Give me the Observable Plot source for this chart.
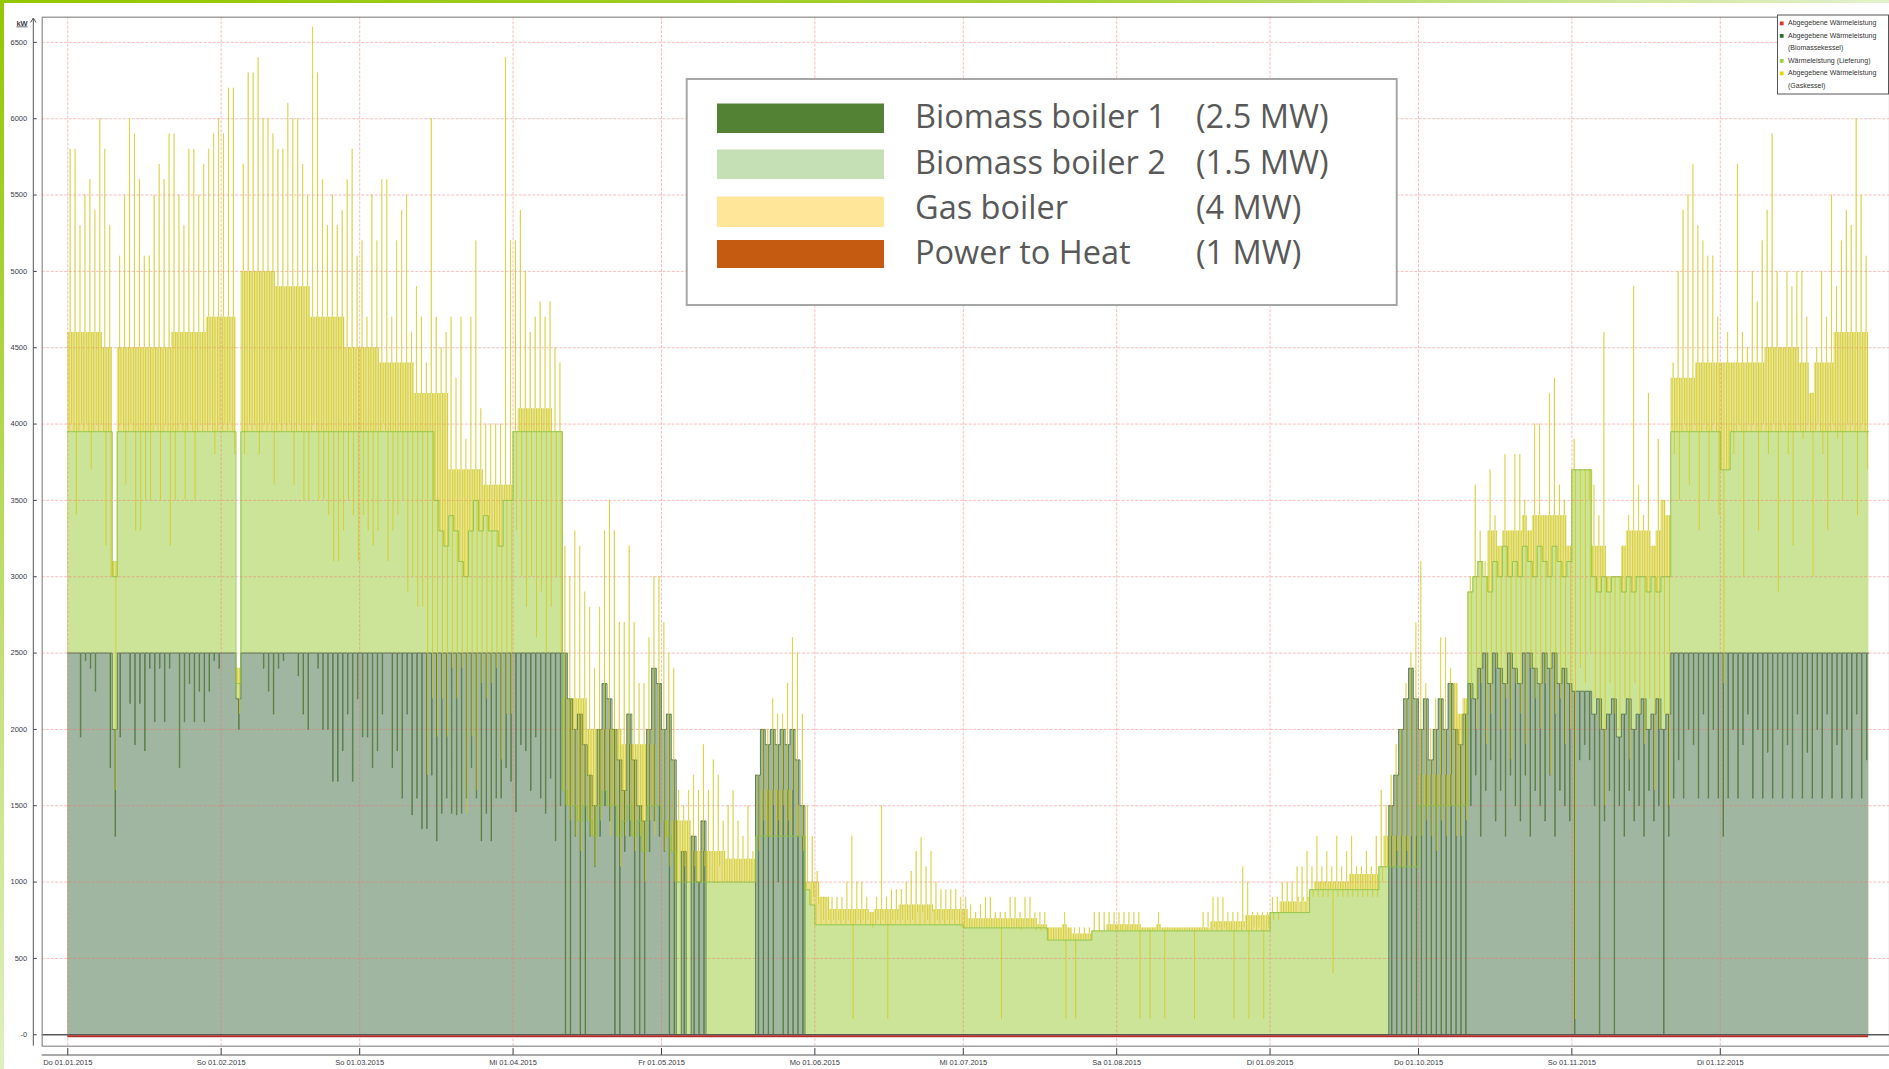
<!DOCTYPE html>
<html><head><meta charset="utf-8">
<script src="https://cdn.jsdelivr.net/npm/d3@7"></script>
<script src="https://cdn.jsdelivr.net/npm/@observablehq/plot@0.6"></script>
<style>
html,body{margin:0;padding:0;background:#fff;overflow:hidden}
#wrap{position:relative;width:1889px;height:1069px}
#chart{position:absolute;left:0;top:0}
#barL{position:absolute;left:0;top:0;width:4px;height:1069px;background:linear-gradient(#93c700,#dff0bf)}
#barT{position:absolute;left:0;top:0;width:1889px;height:3px;background:linear-gradient(90deg,#93c700 0%,#a6d034 55%,#e4f1cc 100%)}
</style></head>
<body><div id="wrap"><div id="chart"></div><div id="barL"></div><div id="barT"></div></div>
<script>
// ---- axis ticks ----
const monthTickDays = [0,31,59,90,120,151,181,212,243,273,304,334];
const monthTickLabels = ["Do 01.01.2015","So 01.02.2015","So 01.03.2015","Mi 01.04.2015","Fr 01.05.2015","Mo 01.06.2015","Mi 01.07.2015","Sa 01.08.2015","Di 01.09.2015","Do 01.10.2015","So 01.11.2015","Di 01.12.2015"];
const yTicks = [0,500,1000,1500,2000,2500,3000,3500,4000,4500,5000,5500,6000,6500];
const yTickLabels = ["-0","500","1000","1500","2000","2500","3000","3500","4000","4500","5000","5500","6000","6500"];

// ---- daily peak of total heat output (kW), 01.01.–30.12.2015 ----
const peak = [
5800,5800,5300,5500,5600,5400,6000,5800,5300,3100,5100,5500,6000,5900,5600,5100,5100,5500,5700,5600,5900,5900,5500,5300,5800,5800,5500,5700,5800,5900,6000,
5900,6200,6200,2400,5700,6300,6300,6400,6000,6000,5900,5800,5800,6100,6000,6000,5700,5500,6600,6300,5600,5300,5500,5300,5400,5600,5800,5100,
5200,4700,5500,5200,5600,5600,4700,5200,5400,5500,4600,4900,4700,4400,6000,4700,4500,4600,4700,4300,4700,3900,4700,5200,4100,4000,4000,4000,4000,6400,5200,
5200,5400,5000,4600,4700,4800,4700,4800,4500,4400,3200,3000,3300,3200,2900,2800,2400,2800,3300,3500,3300,2700,2700,3200,2700,2300,2300,2600,3000,3000,
2700,2500,2400,1600,1500,1600,1700,1600,1900,1600,1800,1700,1400,1500,1600,1400,1300,1500,1200,1700,2000,2000,2200,2100,2100,2300,2600,2500,2100,1500,1300,
1070,900,900,900,900,900,1000,1300,1000,1000,900,800,900,1500,900,950,950,950,1000,1070,1200,1290,1100,1200,1000,950,950,950,950,900,
900,850,800,850,900,900,800,800,800,900,900,800,900,900,800,800,800,700,700,700,800,700,700,700,700,700,800,800,800,800,800,
800,800,800,800,800,700,700,700,800,700,700,700,700,700,700,700,700,800,800,900,900,900,800,800,800,1100,1000,800,800,800,800,
900,900,1000,1000,1000,1100,1100,1200,1100,1300,1100,1200,1100,1300,1100,1200,1300,1100,1100,1200,1100,1300,1600,1500,1700,1900,2000,2300,2500,2700,
3100,2300,2000,2200,2600,2600,2400,2300,2100,2200,3000,3600,3300,3100,3700,3400,3200,3800,3300,3800,3800,3500,3300,4000,4000,3400,4200,4300,3600,3500,3200,
3900,3700,3700,3500,3600,3400,4600,3000,3000,3000,3200,3400,4900,3600,3400,4200,3200,3900,3500,3400,4400,5000,5400,5500,5700,5300,5200,5100,5100,4700,
4400,4600,4400,5700,4600,4500,5000,4800,5200,5400,5900,5000,4500,5000,4900,5000,5000,4700,4200,4500,5000,4700,5500,4900,5200,5400,5300,6000,5500,5100
];

// ---- daily lowest dip of total heat output (kW) ----
const dip = [
4000,3400,4000,4000,3700,4000,4000,3200,3000,1600,4000,3600,4000,3300,3300,3500,3500,4000,3500,4000,3200,3500,4000,3500,4000,3500,4000,4000,4000,3800,4000,
4000,4000,3800,2100,3800,4000,4000,3800,4000,4000,3600,4000,4000,4000,3600,4000,3500,3500,4000,3500,3500,3400,3100,3100,3300,3500,3400,3100,
3400,3300,3200,3300,4000,3100,3300,3400,3500,2900,3000,2800,2800,1700,2200,1950,2200,1950,2400,2200,2400,1450,1950,1600,2300,2200,2300,2400,1800,2100,2100,
3300,3000,2800,3000,2600,2900,2500,2800,3000,2500,1500,1400,1300,1200,1500,1300,1100,1400,1600,1300,1500,1100,1300,1400,1200,1300,1000,1400,1300,1500,
1200,1100,1000,1000,1100,1000,1100,1000,1100,1000,1000,1100,1000,1000,1000,1000,1000,1000,1000,1200,1400,1300,1500,1400,1500,1400,1600,1500,1200,1000,900,
850,750,750,750,750,750,750,100,750,750,750,700,750,750,100,750,750,750,750,750,800,800,750,800,750,750,750,750,750,700,
700,700,700,700,700,700,700,100,700,700,700,680,700,700,680,680,680,620,620,620,100,620,100,620,620,620,680,680,680,680,680,
680,680,680,680,100,680,100,680,680,100,680,680,680,680,680,100,680,680,700,700,700,700,680,100,700,700,100,700,700,100,700,
750,750,800,800,800,900,900,900,900,900,900,900,400,900,900,900,900,900,900,900,900,900,1000,1100,1100,1200,1100,1200,1300,1300,
1300,1400,1300,1200,1400,1300,1500,1300,1300,1400,2200,2000,2300,1900,2100,2400,2000,2200,1800,2300,2100,1900,2400,2200,2000,2300,1700,2100,2200,1900,2000,
100,2400,2300,2500,2200,2000,1500,2300,2100,2000,2200,1800,2300,2100,1900,2200,1600,2000,2100,1500,3800,3500,4000,3600,4000,3300,4000,3500,4000,3400,
2300,3700,3800,4000,3000,4000,4000,3300,4000,3800,4000,2900,4000,3800,3200,4000,3900,4000,3000,4000,3800,3300,4000,3900,3500,4000,4000,3400,4000,3700
];

// ---- typical weekly level of total output (kW) ----
const weekLevel = [4600,4500,4500,4600,4700,5000,4900,4700,4500,4400,4200,3700,3600,4100,2200,2000,1900,1400,1200,1150,1600,1000,820,820,850,820,760,760,720,660,720,720,700,740,780,870,1000,1050,1300,1700,2600,3300,3400,3400,3200,3300,4300,4400,4400,4500,4400,4600,4600];

// ---- daily delivered heat from biomass boilers (Wärmeleistung Lieferung, kW) ----
const delivery = [
3950,3950,3950,3950,3950,3950,3950,3950,3950,3000,3950,3950,3950,3950,3950,3950,3950,3950,3950,3950,3950,3950,3950,3950,3950,3950,3950,3950,3950,3950,3950,
3950,3950,3950,2300,3950,3950,3950,3950,3950,3950,3950,3950,3950,3950,3950,3950,3950,3950,3950,3950,3950,3950,3950,3950,3950,3950,3950,3950,
3950,3950,3950,3950,3950,3950,3950,3950,3950,3950,3950,3950,3950,3950,3950,3500,3300,3200,3400,3300,3100,3000,3300,3500,3300,3400,3300,3300,3200,3500,3500,
3950,3950,3950,3950,3950,3950,3950,3950,3950,3950,1600,1500,1500,1400,1500,1400,1300,1500,1600,1500,1500,1300,1400,1500,1300,1400,1200,1500,1500,1500,
1400,1300,1200,1000,1000,1000,1000,1000,1000,1000,1000,1000,1000,1000,1000,1000,1000,1000,1000,1300,1300,1300,1300,1300,1300,1300,1300,1300,1300,950,850,
720,720,720,720,720,720,720,720,720,720,720,720,720,720,720,720,720,720,720,720,720,720,720,720,720,720,720,720,720,720,
700,700,700,700,700,700,700,700,700,700,700,700,700,700,700,700,700,620,620,620,620,620,620,620,620,620,680,680,680,680,680,
680,680,680,680,680,680,680,680,680,680,680,680,680,680,680,680,680,680,680,680,680,680,680,680,680,680,680,680,680,680,680,
800,800,800,800,800,800,800,800,950,950,950,950,950,950,950,950,950,950,950,950,950,950,1100,1100,1100,1100,1100,1100,1100,1100,
1500,1500,1500,1500,1500,1500,1500,1500,1500,1500,2900,3000,3100,3000,2900,3100,3000,3200,3000,3100,3000,3200,3100,3000,3200,3100,3000,3200,3100,3000,3100,
3700,3700,3700,3700,3000,2900,3000,2900,3000,3000,2900,3000,2900,3000,3000,2900,3000,2900,3000,3000,3950,3950,3950,3950,3950,3950,3950,3950,3950,3950,
3700,3700,3950,3950,3950,3950,3950,3950,3950,3950,3950,3950,3950,3950,3950,3950,3950,3950,3950,3950,3950,3950,3950,3950,3950,3950,3950,3950,3950,3950
];

// ---- biomass boiler 1: daily level and daily dip (kW) ----
const bioHi = [
2500,2500,2500,2500,2500,2500,2500,2500,2500,2000,2500,2500,2500,2500,2500,2500,2500,2500,2500,2500,2500,2500,2500,2500,2500,2500,2500,2500,2500,2500,2500,
2500,2500,2500,2200,2500,2500,2500,2500,2500,2500,2500,2500,2500,2500,2500,2500,2500,2500,2500,2500,2500,2500,2500,2500,2500,2500,2500,2500,
2500,2500,2500,2500,2500,2500,2500,2500,2500,2500,2500,2500,2500,2500,2500,2500,2500,2500,2500,2500,2500,2500,2500,2500,2500,2500,2500,2500,2500,2500,2500,
2500,2500,2500,2500,2500,2500,2500,2500,2500,2500,2500,2200,2000,2100,1900,1700,1500,2000,2300,2200,2000,1800,1600,2100,1800,1500,1400,2000,2400,2300,
2000,2100,1800,0,1200,0,1300,1000,1400,0,0,0,0,0,0,0,0,0,0,1700,2000,1900,2000,1900,2000,1900,2000,1800,1500,0,0,
0,0,0,0,0,0,0,0,0,0,0,0,0,0,0,0,0,0,0,0,0,0,0,0,0,0,0,0,0,0,
0,0,0,0,0,0,0,0,0,0,0,0,0,0,0,0,0,0,0,0,0,0,0,0,0,0,0,0,0,0,0,
0,0,0,0,0,0,0,0,0,0,0,0,0,0,0,0,0,0,0,0,0,0,0,0,0,0,0,0,0,0,0,
0,0,0,0,0,0,0,0,0,0,0,0,0,0,0,0,0,0,0,0,0,0,0,0,1500,1700,2000,2200,2400,2200,
2000,2200,1800,2000,2200,2000,2300,2000,1900,2100,2300,2200,2400,2500,2300,2500,2400,2300,2500,2400,2300,2500,2500,2400,2300,2500,2400,2500,2300,2400,2300,
2250,2250,2250,2250,2100,2200,2000,2100,2200,1950,2100,2200,2000,2100,2200,2000,2100,2200,2000,2100,2500,2500,2500,2500,2500,2500,2500,2500,2500,2500,
2500,2500,2500,2500,2500,2500,2500,2500,2500,2500,2500,2500,2500,2500,2500,2500,2500,2500,2500,2500,2500,2500,2500,2500,2500,2500,2500,2500,2500,2500
];
const bioLo = [
2500,2500,1950,2450,2400,2250,2500,2500,1750,1300,1950,2500,2170,1900,2170,1860,2400,2050,2400,2050,2400,2500,1750,2050,2300,2050,2250,2050,2250,2450,2400,
2500,2500,2500,2000,2500,2500,2500,2500,2400,2250,2100,2400,2450,2500,2500,2350,2100,2000,2500,2400,2000,2000,1660,1660,1860,2100,1660,2200,
1950,1950,1750,1860,2100,2500,1750,1860,1550,2100,1440,1550,1350,1350,1700,1270,1450,1550,1450,1440,1450,1550,1750,1550,1270,1450,1270,1550,1550,1750,1660,
1460,1900,1860,1600,1950,1550,1450,1680,1270,1500,0,0,1300,0,0,1300,1100,1300,1500,1400,0,0,1200,1300,0,0,0,1200,1400,1300,
1200,0,0,0,0,0,0,0,0,0,0,0,0,0,0,0,0,0,0,0,0,0,0,1000,0,0,0,0,0,0,0,
0,0,0,0,0,0,0,0,0,0,0,0,0,0,0,0,0,0,0,0,0,0,0,0,0,0,0,0,0,0,
0,0,0,0,0,0,0,0,0,0,0,0,0,0,0,0,0,0,0,0,0,0,0,0,0,0,0,0,0,0,0,
0,0,0,0,0,0,0,0,0,0,0,0,0,0,0,0,0,0,0,0,0,0,0,0,0,0,0,0,0,0,0,
0,0,0,0,0,0,0,0,0,0,0,0,0,0,0,0,0,0,0,0,0,0,0,0,0,0,0,0,0,0,
0,0,0,0,0,0,0,0,0,0,1500,1700,1300,1600,1800,1400,1600,1300,1700,1500,1400,1700,1300,1600,1500,1400,1700,1300,1600,1500,1400,
0,1800,1900,1800,1500,0,1400,1600,0,1500,1300,1600,1400,1500,1300,1600,1400,1500,0,1300,1550,1800,1550,2000,1900,1550,2100,1550,2000,1550,
1300,1550,2000,1550,1900,2100,1550,2000,1550,1850,1550,2000,1550,1900,1550,2100,1550,1850,1550,2000,1550,2100,1550,1900,1550,2000,1550,2100,1550,1800
];

// ---- legends ----
const legendNames = ["Biomass boiler 1","Biomass boiler 2","Gas boiler","Power to Heat"];
const legendCaps = ["(2.5 MW)","(1.5 MW)","(4 MW)","(1 MW)"];
const legendColors = ["#548235","#c5e0b4","#ffe699","#c55a11"];
const seriesLines = [["Abgegebene Wärmeleistung"],["Abgegebene Wärmeleistung","(Biomassekessel)"],["Wärmeleistung (Lieferung)"],["Abgegebene Wärmeleistung","(Gaskessel)"]];
const seriesColors = ["#e0312f","#2f6b2f","#9fd13c","#e4d400"];

// ---- build tables ----
const n = peak.length;
const days = d3.range(n);
const levelOf = d => Math.max(delivery[d], Math.min(weekLevel[Math.floor(d / 7)], peak[d]));
const gasArea = days.flatMap(d => {
  const lvl = levelOf(d);
  return [{t:d,v:lvl},{t:d+0.2,v:delivery[d]},{t:d+0.26,v:lvl},{t:d+0.45,v:peak[d]},{t:d+0.53,v:lvl},{t:d+0.7,v:dip[d]},{t:d+0.76,v:lvl}];
});
gasArea.push({t:n, v:levelOf(n-1)});
const gasSpikes = days.flatMap(d => {
  const lvl = levelOf(d);
  return [{t:d+0.23,a:lvl,b:delivery[d]},{t:d+0.49,a:lvl,b:peak[d]},{t:d+0.73,a:lvl,b:dip[d]}];
});
const bioLine = days.flatMap(d => [{t:d,v:bioHi[d]},{t:d+0.52,v:bioLo[d]},{t:d+0.64,v:bioHi[d]}]);
bioLine.push({t:n, v:bioHi[n-1]});
const delivLine = days.map(d => ({t:d, v:delivery[d]}));
delivLine.push({t:n, v:delivery[n-1]});

const gridStyle = {stroke:"#ef6f6f", strokeOpacity:0.45, strokeDasharray:"3,1.5", strokeWidth:1};

const chart = Plot.plot({
  width: 1889, height: 1069,
  marginLeft: 41.7, marginRight: 0, marginTop: 16.7, marginBottom: 23.3,
  style: {fontFamily: "'Liberation Sans', Arial, sans-serif", fontSize: "7.5px", color: "#3c3c48", background: "transparent"},
  x: {domain: [-5.17, 368.2], label: null},
  y: {domain: [-75, 6665], label: null},
  marks: [
    Plot.areaY(gasArea, {x:"t", y:"v", curve:"step-after", fill:"#e6e28c"}),
    Plot.areaY(delivLine, {x:"t", y:"v", curve:"step-after", fill:"#cce498"}),
    Plot.areaY(bioLine, {x:"t", y:"v", curve:"step-after", fill:"#a1b6a1"}),
    Plot.ruleY(yTicks.filter(v => v > 0), gridStyle),
    Plot.ruleX(monthTickDays, gridStyle),
    Plot.line(bioLine, {x:"t", y:"v", curve:"step-after", stroke:"#4b7040", strokeWidth:1, strokeOpacity:0.75}),
    Plot.ruleX(gasSpikes, {x:"t", y1:"a", y2:"b", stroke:"#d3c81c", strokeWidth:1, strokeOpacity:0.8}),
    Plot.line(delivLine, {x:"t", y:"v", curve:"step-after", stroke:"#8cc23c", strokeWidth:1, strokeOpacity:0.85}),
    Plot.ruleY([0], {stroke:"#5a5a5a", strokeWidth:1.3}),
    Plot.ruleY([{y:0, x1:0, x2:n}], {y:"y", x1:"x1", x2:"x2", stroke:"#b3302a", strokeWidth:2, dy:1.6}),
    Plot.frame({stroke:"#8c8c8c", strokeWidth:1.2}),
    Plot.axisY({ticks: yTicks, tickFormat: v => yTickLabels[yTicks.indexOf(v)], tickSize: 3.4, tickPadding: 6.6, dx: -5, label: null}),
    Plot.axisX({ticks: monthTickDays, tickFormat: d => monthTickLabels[monthTickDays.indexOf(d)], tickSize: -7, tickPadding: 11, dy: 9.3, label: null})
  ]
});
document.getElementById("chart").appendChild(chart);

// ---- axis lines and unit label ----
const svg = d3.select(chart);
const deco = svg.append("g").attr("stroke", "#555").attr("fill", "none");
deco.append("line").attr("x1", 33.3).attr("x2", 33.3).attr("y1", 18).attr("y2", 1045.7);
deco.append("path").attr("d", "M30.6,22.5 L33.3,18 L36,22.5");
deco.append("line").attr("x1", 41.7).attr("x2", 1889).attr("y1", 1055).attr("y2", 1055);
svg.append("text").attr("x", 22).attr("y", 25.5).attr("text-anchor", "middle")
  .attr("font-family", "'Liberation Sans', Arial, sans-serif").attr("font-size", 7.5).attr("font-weight", "bold")
  .attr("text-decoration", "underline").attr("fill", "#3c3c48").text("kW");

// ---- big legend ----
const lg = svg.append("g").attr("text-anchor", "start");
lg.append("rect").attr("x", 686.7).attr("y", 79).attr("width", 710).attr("height", 226)
  .attr("fill", "#fff").attr("stroke", "#a6a6a6").attr("stroke-width", 2);
const rowY = [103.5, 149.5, 196.5, 240];
const rowH = [29.5, 29.5, 30.5, 28];
const baseY = [128.3, 174, 219, 264.3];
legendNames.forEach((name, i) => {
  lg.append("rect").attr("x", 717).attr("y", rowY[i]).attr("width", 167).attr("height", rowH[i]).attr("fill", legendColors[i]);
  lg.append("text").attr("x", 915).attr("y", baseY[i]).attr("text-anchor", "start").attr("font-family", "'Open Sans', sans-serif")
    .attr("font-size", 32.5).attr("fill", "#595959").text(name);
  lg.append("text").attr("x", 1196).attr("y", baseY[i]).attr("text-anchor", "start").attr("font-family", "'Open Sans', sans-serif")
    .attr("font-size", 32.5).attr("fill", "#595959").text(legendCaps[i]);
});

// ---- small series legend (top right) ----
const sl = svg.append("g").attr("text-anchor", "start").attr("font-family", "'Liberation Sans', Arial, sans-serif").attr("font-size", 7).attr("fill", "#333");
sl.append("rect").attr("x", 1777.5).attr("y", 15).attr("width", 111).attr("height", 79)
  .attr("fill", "#fff").attr("stroke", "#555").attr("stroke-width", 1);
let ly = 23.5;
seriesLines.forEach((lines, i) => {
  sl.append("rect").attr("x", 1779.8).attr("y", ly - 2).attr("width", 3.8).attr("height", 3.8).attr("fill", seriesColors[i]);
  lines.forEach(t => {
    sl.append("text").attr("x", 1788).attr("y", ly).attr("text-anchor", "start").attr("dominant-baseline", "middle").text(t);
    ly += 12.5;
  });
});
</script>
</body></html>
